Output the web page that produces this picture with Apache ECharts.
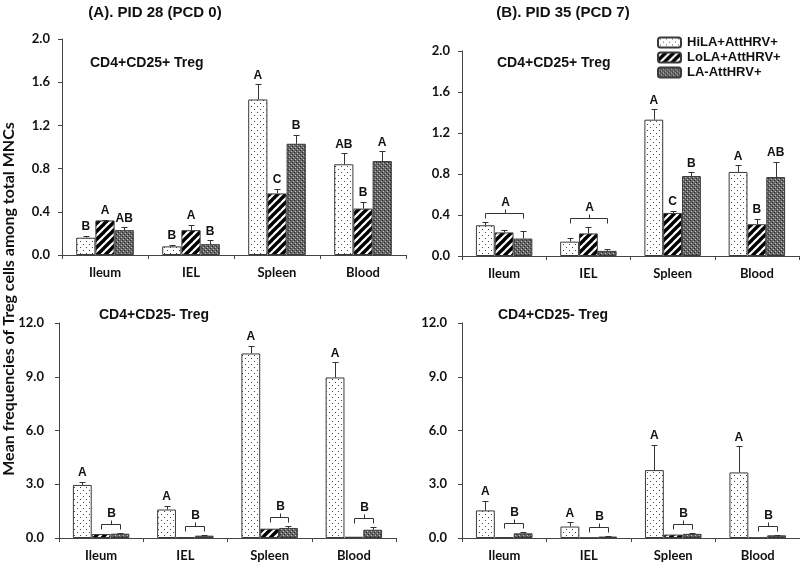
<!DOCTYPE html>
<html><head><meta charset="utf-8">
<script src="https://cdn.jsdelivr.net/npm/echarts@6/dist/echarts.min.js"></script>
<style>html,body{margin:0;padding:0;background:#fff}#c{width:800px;height:565px}</style>
</head><body><div id="c"></div>
<script>
// ---------- data ----------
const categories = ['Ileum', 'IEL', 'Spleen', 'Blood'];
const seriesNames = ['HiLA+AttHRV+', 'LoLA+AttHRV+', 'LA-AttHRV+'];
const headings = ['(A). PID 28 (PCD 0)', '(B). PID 35 (PCD 7)'];
const panelTitles = ['CD4+CD25+ Treg', 'CD4+CD25+ Treg', 'CD4+CD25- Treg', 'CD4+CD25- Treg'];
const yAxisName = 'Mean frequencies of Treg cells among total MNCs';
const topAxisMax = 2.0, topAxisStep = 0.4;
const bottomAxisMax = 12.0, bottomAxisStep = 3.0;

// Panel A, CD4+CD25+
const a1HiLA = [0.16, 0.08, 1.44, 0.84];
const a1HiLAErr = [0.02, 0.015, 0.14, 0.10];
const a1LoLA = [0.32, 0.23, 0.57, 0.43];
const a1LoLAErr = [0.008, 0.05, 0.045, 0.065];
const a1LA = [0.23, 0.10, 1.03, 0.87];
const a1LAErr = [0.025, 0.035, 0.08, 0.09];
const a1Letters = [['B', 'A', 'AB'], ['B', 'A', 'B'], ['A', 'C', 'B'], ['AB', 'B', 'A']];
const a1Brackets = [];

// Panel B, CD4+CD25+
const b1HiLA = [0.30, 0.14, 1.33, 0.82];
const b1HiLAErr = [0.03, 0.04, 0.10, 0.065];
const b1LoLA = [0.23, 0.22, 0.42, 0.31];
const b1LoLAErr = [0.02, 0.06, 0.02, 0.05];
const b1LA = [0.17, 0.05, 0.78, 0.77];
const b1LAErr = [0.07, 0.015, 0.035, 0.15];
const b1Letters = [[null, null, null], [null, null, null], ['A', 'C', 'B'], ['A', 'B', 'AB']];
const b1Brackets = [{cat: 0, from: 0, to: 2, text: 'A'}, {cat: 1, from: 0, to: 2, text: 'A'}];

// Panel A, CD4+CD25-
const a2HiLA = [2.96, 1.59, 10.3, 8.96];
const a2HiLAErr = [0.19, 0.19, 0.44, 0.84];
const a2LoLA = [0.22, 0.04, 0.52, 0.07];
const a2LoLAErr = [0, 0, 0, 0];
const a2LA = [0.24, 0.13, 0.56, 0.46];
const a2LAErr = [0.06, 0.04, 0.11, 0.15];
const a2Letters = [['A', null, null], ['A', null, null], ['A', null, null], ['A', null, null]];
const a2Brackets = [{cat: 0, from: 1, to: 2, text: 'B'}, {cat: 1, from: 1, to: 2, text: 'B'}, {cat: 2, from: 1, to: 2, text: 'B'}, {cat: 3, from: 1, to: 2, text: 'B'}];

// Panel B, CD4+CD25-
const b2HiLA = [1.54, 0.64, 3.79, 3.66];
const b2HiLAErr = [0.54, 0.24, 1.42, 1.46];
const b2LoLA = [0.04, 0.02, 0.19, 0.02];
const b2LoLAErr = [0, 0, 0, 0];
const b2LA = [0.26, 0.08, 0.23, 0.15];
const b2LAErr = [0.06, 0.02, 0.05, 0.04];
const b2Letters = [['A', null, null], ['A', null, null], ['A', null, null], ['A', null, null]];
const b2Brackets = [{cat: 0, from: 1, to: 2, text: 'B'}, {cat: 1, from: 1, to: 2, text: 'B'}, {cat: 2, from: 1, to: 2, text: 'B'}, {cat: 3, from: 1, to: 2, text: 'B'}];

// ---------- patterns ----------
function tile(w, h, draw) {
  const c = document.createElement('canvas'); c.width = w; c.height = h;
  const g = c.getContext('2d'); draw(g); return c;
}
const dotTile = tile(6, 6, g => {
  g.fillStyle = '#fff'; g.fillRect(0, 0, 6, 6);
  g.fillStyle = '#444'; g.fillRect(2, 1, 1, 1); g.fillRect(5, 4, 1, 1);
});
const hatchTile = tile(8, 8, g => {
  g.fillStyle = '#fff'; g.fillRect(0, 0, 8, 8);
  g.strokeStyle = '#000'; g.lineWidth = 3.4;
  [[-8, 8, 8, -8], [0, 8, 8, 0], [0, 16, 16, 0]].forEach(([a, b, c, d]) => {
    g.beginPath(); g.moveTo(a, b); g.lineTo(c, d); g.stroke();
  });
});
const meshTile = tile(4, 4, g => {
  g.fillStyle = '#666'; g.fillRect(0, 0, 4, 4);
  g.fillStyle = '#bdbdbd'; g.fillRect(1, 1, 1, 1); g.fillRect(3, 3, 1, 1);
  g.fillStyle = '#2a2a2a'; g.fillRect(0, 2, 1, 1); g.fillRect(2, 0, 1, 1);
});
const patterns = [dotTile, hatchTile, meshTile].map(t => ({image: t, repeat: 'repeat'}));

// ---------- layout ----------
const grids = [
  {left: 62, top: 39, width: 344, height: 216},
  {left: 462, top: 51, width: 337, height: 205},
  {left: 59, top: 323, width: 337, height: 215},
  {left: 462, top: 323, width: 338, height: 215}
];
const panels = [
  {vals: [a1HiLA, a1LoLA, a1LA], errs: [a1HiLAErr, a1LoLAErr, a1LAErr], letters: a1Letters, brackets: a1Brackets, max: topAxisMax, step: topAxisStep},
  {vals: [b1HiLA, b1LoLA, b1LA], errs: [b1HiLAErr, b1LoLAErr, b1LAErr], letters: b1Letters, brackets: b1Brackets, max: topAxisMax, step: topAxisStep},
  {vals: [a2HiLA, a2LoLA, a2LA], errs: [a2HiLAErr, a2LoLAErr, a2LAErr], letters: a2Letters, brackets: a2Brackets, max: bottomAxisMax, step: bottomAxisStep},
  {vals: [b2HiLA, b2LoLA, b2LA], errs: [b2HiLAErr, b2LoLAErr, b2LAErr], letters: b2Letters, brackets: b2Brackets, max: bottomAxisMax, step: bottomAxisStep}
];
const GAP = 0.33;
const letterFont = 'bold 12px "Liberation Sans", Arial, sans-serif';
const axisFont = {fontFamily: 'Lato, "Open Sans", sans-serif', fontWeight: 'bold', fontSize: 13, color: '#111'};

function customSeries(p, P) {
  return {
    type: 'custom', xAxisIndex: p, yAxisIndex: p, clip: false, silent: true, z: 5,
    data: categories.map((c, i) => [i, 0]),
    encode: {x: 0, y: 1},
    renderItem(params, api) {
      const ci = api.value(0);
      const center = api.coord([ci, 0]);
      const band = api.size([1, 0])[0];
      const bw = band * (1 - GAP) / 3;
      const xs = [0, 1, 2].map(s => center[0] + (s - 1) * bw);
      const children = [];
      const tops = [];
      for (let s = 0; s < 3; s++) {
        const v = P.vals[s][ci], e = P.errs[s][ci];
        const yTop = api.coord([ci, v])[1];
        const yErr = api.coord([ci, v + e])[1];
        tops.push(Math.min(yTop, yErr));
        const xr = Math.round(xs[s]) + 0.5;
        if (e > 0) {
          children.push({type: 'line', shape: {x1: xr, y1: yTop, x2: xr, y2: Math.round(yErr) + 0.5}, style: {stroke: '#333', lineWidth: 1}});
          children.push({type: 'line', shape: {x1: xr - 3, y1: Math.round(yErr) + 0.5, x2: xr + 3, y2: Math.round(yErr) + 0.5}, style: {stroke: '#333', lineWidth: 1}});
        }
        const L = P.letters[ci][s];
        if (L) children.push({type: 'text', style: {text: L, x: xs[s], y: yErr - 3, align: 'center', verticalAlign: 'bottom', textAlign: 'center', textVerticalAlign: 'bottom', font: letterFont, fill: '#111'}});
      }
      P.brackets.filter(b => b.cat === ci).forEach(b => {
        let yb = Infinity;
        for (let s = b.from; s <= b.to; s++) yb = Math.min(yb, tops[s]);
        yb = Math.round(yb - 9) + 0.5;
        const x1 = Math.round(xs[b.from]) + 0.5, x2 = Math.round(xs[b.to]) + 0.5;
        const xm = Math.round((x1 + x2) / 2) + 0.5;
        children.push({type: 'polyline', shape: {points: [[x1, yb + 5], [x1, yb], [x2, yb], [x2, yb + 5]]}, style: {stroke: '#333', lineWidth: 1, fill: null}});
        children.push({type: 'line', shape: {x1: xm, y1: yb, x2: xm, y2: yb - 4}, style: {stroke: '#333', lineWidth: 1}});
        children.push({type: 'text', style: {text: b.text, x: xm, y: yb - 5, align: 'center', verticalAlign: 'bottom', textAlign: 'center', textVerticalAlign: 'bottom', font: letterFont, fill: '#111'}});
      });
      return {type: 'group', children};
    }
  };
}

const series = [];
panels.forEach((P, p) => {
  for (let s = 0; s < 3; s++) {
    series.push({
      type: 'bar', name: seriesNames[s], xAxisIndex: p, yAxisIndex: p,
      data: P.vals[s], barGap: '0%', barCategoryGap: (GAP * 100) + '%',
      itemStyle: {color: patterns[s], borderColor: '#3a3a3a', borderWidth: 1},
      emphasis: {disabled: true}
    });
  }
  series.push(customSeries(p, P));
});

const axisLineStyle = {color: '#444', width: 1};
const option = {
  animation: false,
  backgroundColor: '#fff',
  grid: grids,
  xAxis: grids.map((g, p) => ({
    type: 'category', gridIndex: p, data: categories,
    axisLine: {show: true, lineStyle: axisLineStyle},
    axisTick: {show: true, length: 4, alignWithLabel: false, lineStyle: axisLineStyle},
    axisLabel: Object.assign({margin: 11}, axisFont)
  })),
  yAxis: panels.map((P, p) => ({
    type: 'value', gridIndex: p, min: 0, max: P.max, interval: P.step,
    axisLine: {show: true, lineStyle: axisLineStyle},
    axisTick: {show: true, length: 4, lineStyle: axisLineStyle},
    splitLine: {show: false},
    axisLabel: Object.assign({margin: p < 2 ? 12 : 15, formatter: v => v.toFixed(1)}, axisFont)
  })),
  legend: {
    data: seriesNames, orient: 'vertical', left: 652, top: 31,
    itemWidth: 23, itemHeight: 10, itemGap: 2,
    selectedMode: false,
    textStyle: {fontFamily: '"Liberation Sans", Arial, sans-serif', fontWeight: 'bold', fontSize: 13, color: '#111', padding: [0, 0, 0, 1]}
  },
  graphic: [
    {type: 'text', x: 155, y: 13, style: {text: headings[0], font: 'bold 15px "Liberation Sans Narrow", "Arial Narrow", "Liberation Sans", sans-serif', fill: '#111', align: 'center', verticalAlign: 'middle', textAlign: 'center', textVerticalAlign: 'middle'}},
    {type: 'text', x: 563, y: 13, style: {text: headings[1], font: 'bold 15px "Liberation Sans Narrow", "Arial Narrow", "Liberation Sans", sans-serif', fill: '#111', align: 'center', verticalAlign: 'middle', textAlign: 'center', textVerticalAlign: 'middle'}},
    {type: 'text', x: 90, y: 63, style: {text: panelTitles[0], font: 'bold 14px "Liberation Sans", Arial, sans-serif', fill: '#111', verticalAlign: 'middle', textVerticalAlign: 'middle'}},
    {type: 'text', x: 497, y: 63, style: {text: panelTitles[1], font: 'bold 14px "Liberation Sans", Arial, sans-serif', fill: '#111', verticalAlign: 'middle', textVerticalAlign: 'middle'}},
    {type: 'text', x: 99, y: 315, style: {text: panelTitles[2], font: 'bold 14px "Liberation Sans", Arial, sans-serif', fill: '#111', verticalAlign: 'middle', textVerticalAlign: 'middle'}},
    {type: 'text', x: 498, y: 315, style: {text: panelTitles[3], font: 'bold 14px "Liberation Sans", Arial, sans-serif', fill: '#111', verticalAlign: 'middle', textVerticalAlign: 'middle'}},
    {type: 'text', x: 9, y: 299, rotation: Math.PI / 2, style: {text: yAxisName, font: 'bold 16px Lato, "Open Sans", sans-serif', fill: '#111', align: 'center', verticalAlign: 'middle', textAlign: 'center', textVerticalAlign: 'middle'}}
  ],
  series
};
const chart = echarts.init(document.getElementById('c'), null, {renderer: 'canvas'});
chart.setOption(option);
</script>
</body></html>
